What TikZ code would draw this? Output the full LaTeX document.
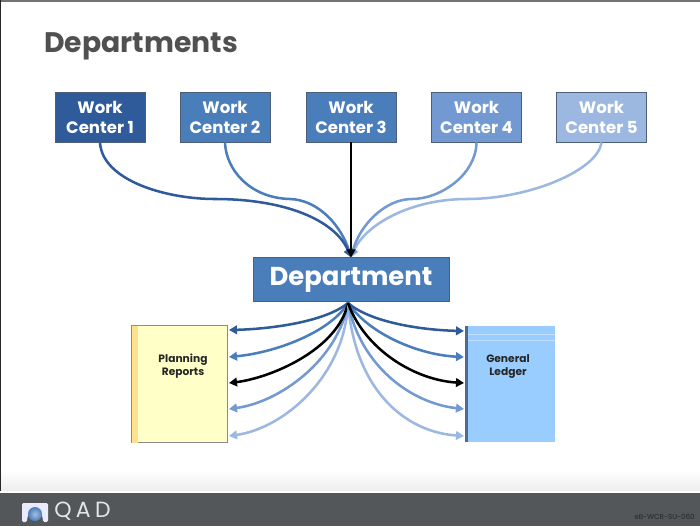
\documentclass[tikz,border=0pt]{standalone}
\usepackage{fontspec}
\setmainfont{Poppins}
\usetikzlibrary{arrows.meta}
\definecolor{wcA}{HTML}{2F5B9B}
\definecolor{wcB}{HTML}{4A7EBB}
\definecolor{wcD}{HTML}{7299D2}
\definecolor{wcE}{HTML}{9DB8E0}
\definecolor{edgeC}{HTML}{4D5F78}
\definecolor{titleC}{HTML}{505050}
\definecolor{footC}{HTML}{53575A}
\definecolor{planC}{HTML}{FFFFC8}
\definecolor{stripC}{HTML}{FFE08F}
\definecolor{glC}{HTML}{99CCFF}
\definecolor{glL}{HTML}{C2E0FF}
\tikzset{
  x=0.75pt,y=-0.75pt,
  wc/.style={draw=edgeC,line width=0.7pt,minimum width=67.5pt,minimum height=37.5pt,inner sep=0pt,align=center,text=white,font=\fontsize{12.4}{15}\selectfont\bfseries},
  dep/.style={draw=edgeC,line width=0.7pt,fill=wcB,minimum width=147pt,minimum height=32.5pt,inner sep=0pt,text=white,font=\fontsize{19.4}{24}\selectfont\bfseries},
  doc/.style={align=center,text=black!85,font=\fontsize{8}{10}\selectfont\bfseries},
  link/.style={line width=1.9pt,-{Triangle[length=6pt,width=6.5pt]}},
}
\begin{document}
\begin{tikzpicture}
\useasboundingbox (0,0) rectangle (700,526);
\fill[white] (0,0) rectangle (700,526);
\shade[top color=white,bottom color=black!7] (0,470) rectangle (700,491);
\fill[black!55] (0,0) rectangle (700,1.5);
\fill[black!85] (0,0) rectangle (1.2,526);
\fill[footC] (0,493) rectangle (700,526);
\fill[white] (0,490.5) rectangle (700,493);
% title
\node[anchor=base west,inner sep=0pt,text=titleC,font=\fontsize{21.2}{26}\selectfont\bfseries] (title) at (44,52) {Departments};
% work centres
\node[wc,fill=wcA] (w1) at (100,117) {Work\\Center 1};
\node[wc,fill=wcB] (w2) at (225,117) {Work\\Center 2};
\node[wc,fill=wcB] (w3) at (351,117) {Work\\Center 3};
\node[wc,fill=wcD] (w4) at (476.5,117) {Work\\Center 4};
\node[wc,fill=wcE] (w5) at (601.5,117) {Work\\Center 5};
% department
\node[dep] (dept) at (351,279.5) {\raisebox{-4.5pt}{Department}};
\coordinate (hub) at (348,303);
% planning reports
\node[draw=black!45,line width=0.8pt,fill=planC,minimum width=72.5pt,minimum height=88pt,inner sep=0pt] (plan) at (179.5,384) {};
\fill[stripC] (131.5,325.5) rectangle (138,442.5);
\node[doc,anchor=north] (plant) at (183,349) {Planning\\Reports};
% general ledger
\node[fill=glC,minimum width=67.5pt,minimum height=87pt,inner sep=0pt] (gl) at (510,384) {};
\fill[glL] (465,334) rectangle (555,335.2);
\fill[glL] (465,340) rectangle (555,341.2);
\fill[edgeC!60!wcB] (465,326) rectangle (468,442);
\node[doc,anchor=north] (glt) at (508,350) {General\\Ledger};
% targets
\coordinate (pa) at (229,330);
\coordinate (pb) at (229,357);
\coordinate (pc) at (229,383);
\coordinate (pd) at (229,409);
\coordinate (pe) at (229,436);
\coordinate (ga) at (464,331);
\coordinate (gb) at (464,357);
\coordinate (gc) at (464,383);
\coordinate (gd) at (464,409);
\coordinate (ge) at (464,436);
% incoming
\draw[link,wcE] (w5.south) .. controls (598,170) and (530,199) .. (467,199) .. controls (410,199) and (365,225) .. (dept.north);
\draw[link,wcD] (w4.south) .. controls (476,175) and (440,199) .. (412,199) .. controls (385,199) and (360,225) .. (dept.north);
\draw[link,wcB] (w2.south) .. controls (226,170) and (250,198) .. (290,199) .. controls (320,200) and (342,228) .. (dept.north);
\draw[link,wcA] (w1.south) .. controls (102,180) and (165,199) .. (215,199) .. controls (285,199) and (335,220) .. (dept.north);
\draw[link,black] (w3.south) -- (dept.north);
% outgoing left
\draw[link,wcE] (hub) .. controls (345,375) and (285,428) .. (pe);
\draw[link,wcD] (hub) .. controls (338,360) and (280,402) .. (pd);
\draw[link,wcB] (hub) .. controls (332,330) and (280,352) .. (pb);
\draw[link,wcA] (hub) .. controls (325,322) and (270,329) .. (pa);
\draw[link,black] (hub) .. controls (338,350) and (270,378) .. (pc);
% outgoing right
\draw[link,wcE] (hub) .. controls (355,390) and (405,432) .. (ge);
\draw[link,wcD] (hub) .. controls (360,365) and (410,403) .. (gd);
\draw[link,wcB] (hub) .. controls (370,335) and (420,355) .. (gb);
\draw[link,wcA] (hub) .. controls (370,322) and (420,330) .. (ga);
\draw[link,black] (hub) .. controls (365,350) and (415,380) .. (gc);
% footer
\fill[white!92!blue,rounded corners=1pt] (22,503) -- (48,503) -- (48,522) -- (43,522) .. controls (43,508) and (27,508) .. (27,522) -- (22,522) -- cycle;
\shade[inner color=wcB!50!white,outer color=wcB] (35,514) circle (7);
\node[anchor=west,inner sep=0pt,text=black!10,font=\fontsize{16.5}{17}\selectfont\addfontfeature{LetterSpace=20}] (qad) at (54,511) {QAD};
\node[anchor=east,inner sep=0pt,text=black!85,font=\fontsize{5.4}{6}\selectfont] (code) at (695,517) {eB-WCR-SU-060};
\end{tikzpicture}
\end{document}
